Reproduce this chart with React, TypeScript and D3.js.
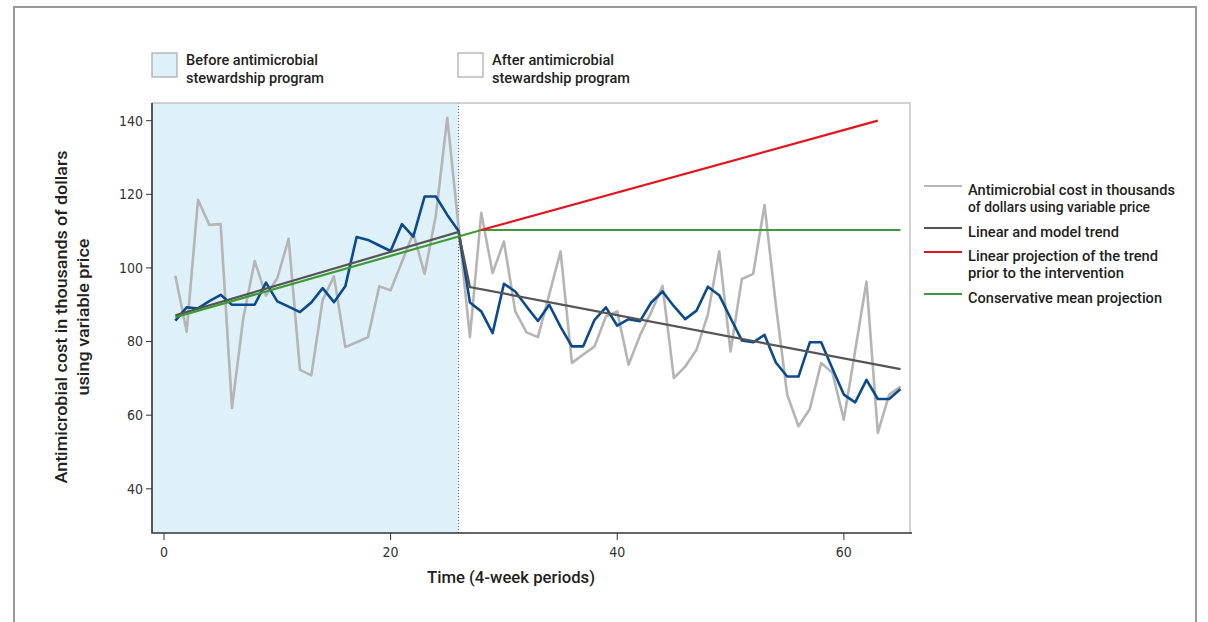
import React from "react";
import * as d3 from "d3";

// values, one per 4-week period (1..65)
const periods = d3.range(1, 66);

const observedCost = [
  97.9, 82.7, 118.5, 111.7, 111.9, 62.0, 86.4, 101.9, 92.5, 97.2,
  107.9, 72.3, 70.8, 91.3, 97.7, 78.5, 79.8, 81.2, 95.0, 93.9,
  101.7, 109.4, 98.4, 114.4, 140.8, 111.0, 81.2, 115.0, 98.6, 107.2,
  88.2, 82.5, 81.2, 92.8, 104.5, 74.2, 76.5, 78.7, 86.8, 88.2,
  73.7, 81.6, 88.0, 95.1, 70.1, 73.2, 77.8, 87.3, 104.5, 77.3,
  97.0, 98.4, 117.1, 90.0, 65.6, 57.0, 61.7, 74.2, 71.5, 58.8,
  77.5, 96.3, 55.2, 65.6, 67.8,
];

const modelCost = [
  85.7, 89.3, 89.0, 91.0, 92.7, 90.0, 90.0, 90.0, 96.0, 90.9,
  89.5, 88.0, 90.6, 94.5, 90.7, 95.0, 108.4, 107.6, 106.1, 104.6,
  111.9, 108.5, 119.4, 119.4, 114.4, 110.0, 90.6, 88.2, 82.3, 95.7,
  93.6, 89.5, 85.6, 90.0, 84.0, 78.7, 78.7, 85.9, 89.3, 84.3,
  86.1, 85.5, 90.6, 93.6, 89.6, 86.1, 88.4, 94.9, 92.6, 86.4,
  80.3, 79.8, 81.8, 74.3, 70.5, 70.5, 79.8, 79.8, 72.6, 65.6,
  63.5, 69.6, 64.4, 64.4, 67.1,
];

// [period, value] knots of the straight lines
const linearTrend: [number, number][] = [[1, 87.1], [26, 109.8], [27, 94.8], [65, 72.5]];
const trendProjection: [number, number][] = [[28, 110.3], [63, 140]];
const meanProjection: [number, number][] = [[1, 86.6], [28, 110.3], [65, 110.3]];

const interventionPeriod = 26;
const xTicks = [0, 20, 40, 60];
const yTicks = [40, 60, 80, 100, 120, 140];

// text + the width it takes in the reference (condensed face)
const legendItems = [
  { color: "#b5b5b5", lines: [["Antimicrobial cost in thousands", 207], ["of dollars using variable price", 182]] },
  { color: "#555555", lines: [["Linear and model trend", 151]] },
  { color: "#e3141e", lines: [["Linear projection of the trend", 190], ["prior to the intervention", 156]] },
  { color: "#3f9a33", lines: [["Conservative mean projection", 194]] },
] as { color: string; lines: [string, number][] }[];

const LABEL_FONT = "Roboto, 'Open Sans', sans-serif";
const TICK_FONT = "'DejaVu Sans Condensed', 'Liberation Sans', sans-serif";
const INK = "#231f20";

// condensed-looking text: squeeze a medium face to the measured width
const Squeezed = ({ w, children, ...rest }: any) => (
  <text textLength={w} lengthAdjust="spacingAndGlyphs" fontFamily={LABEL_FONT} fontWeight={500} fill={INK} {...rest}>
    {children}
  </text>
);

const App = () => {
  const left = 152, right = 910, top = 103, bottom = 533;

  const x = d3.scaleLinear().domain([-1.06, 65.84]).range([left, right]);
  const y = d3.scaleLinear().domain([28, 144.8]).range([bottom, top]);

  const pairLine = d3.line<[number, number]>().x((d) => x(d[0])).y((d) => y(d[1]));
  const seriesLine = (vals: number[]) =>
    d3.line<number>().x((d, i) => x(periods[i])).y((d) => y(d))(vals) || "";

  return (
    <svg
      width={1208}
      height={622}
      style={{ position: "absolute", left: 0, top: 0, background: "#fff" }}
    >
      {/* outer frame */}
      <path d="M14,630 V7 H1196 V630" fill="none" stroke="#9a9a9a" strokeWidth={2} />

      {/* period legend */}
      <rect x={152} y={53} width={25} height={24} fill="#def1f8" stroke="#a8a8a8" strokeWidth={1.2} />
      <Squeezed x={186} y={65} fontSize={15} w={132}>Before antimicrobial</Squeezed>
      <Squeezed x={186} y={83} fontSize={15} w={138}>stewardship program</Squeezed>
      <rect x={458} y={53} width={25} height={24} fill="#fff" stroke="#a8a8a8" strokeWidth={1.2} />
      <Squeezed x={492} y={65} fontSize={15} w={122}>After antimicrobial</Squeezed>
      <Squeezed x={492} y={83} fontSize={15} w={138}>stewardship program</Squeezed>

      {/* before region */}
      <rect x={left} y={top} width={x(interventionPeriod) - left} height={bottom - top} fill="#def1f8" />
      <line x1={x(interventionPeriod)} x2={x(interventionPeriod)} y1={top} y2={bottom}
        stroke="#555" strokeWidth={1} strokeDasharray="1,2" />

      {/* frame: light top/right */}
      <path d={`M${left},${top} H${right} V${bottom}`} fill="none" stroke="#c4c4c4" strokeWidth={1.5} />

      {/* series */}
      <path d={seriesLine(observedCost)} fill="none" stroke="#b5b5b5" strokeWidth={2.6} strokeLinejoin="round" />
      <path d={seriesLine(modelCost)} fill="none" stroke="#0b4a8c" strokeWidth={2.6} strokeLinejoin="round" />
      <path d={pairLine(linearTrend) || ""} fill="none" stroke="#555555" strokeWidth={2.2} />
      <path d={pairLine(meanProjection) || ""} fill="none" stroke="#3f9a33" strokeWidth={2.2} />
      <path d={pairLine(trendProjection) || ""} fill="none" stroke="#e3141e" strokeWidth={2.2} />

      {/* dark axes */}
      <path d={`M${left},${top} V${bottom} H${right + 2}`} fill="none" stroke="#333" strokeWidth={1.6} />

      {yTicks.map((t) => (
        <g key={t} transform={`translate(0,${y(t)})`}>
          <line x1={left - 6} x2={left} stroke="#333" strokeWidth={1} />
          <text x={left - 9} dy="0.35em" textAnchor="end" fontSize={14} fontFamily={TICK_FONT} fill="#333">{t}</text>
        </g>
      ))}
      {xTicks.map((t) => (
        <g key={t} transform={`translate(${x(t)},0)`}>
          <line y1={bottom} y2={bottom + 7} stroke="#333" strokeWidth={1} />
          <text y={bottom + 24} textAnchor="middle" fontSize={14} fontFamily={TICK_FONT} fill="#333">{t}</text>
        </g>
      ))}

      <Squeezed x={511} y={583} textAnchor="middle" fontSize={17} w={168}>
        Time (4-week periods)
      </Squeezed>
      <g transform="translate(0,317) rotate(-90)">
        <Squeezed x={0} y={67} textAnchor="middle" fontSize={17} w={333}>
          Antimicrobial cost in thousands of dollars
        </Squeezed>
        <Squeezed x={0} y={89} textAnchor="middle" fontSize={17} w={157}>
          using variable price
        </Squeezed>
      </g>

      {/* line legend */}
      {(() => {
        let yy = 190;
        return legendItems.map((item) => {
          const y0 = yy;
          yy += item.lines.length * 18 + 6;
          return (
            <g key={item.lines[0][0]}>
              <line x1={924} x2={962} y1={y0 - 4} y2={y0 - 4} stroke={item.color} strokeWidth={2} />
              {item.lines.map(([l, w], i) => (
                <Squeezed key={l} x={968} y={y0 + i * 17} dy="0.32em" fontSize={15} w={w}>{l}</Squeezed>
              ))}
            </g>
          );
        });
      })()}
    </svg>
  );
};

export default App;
